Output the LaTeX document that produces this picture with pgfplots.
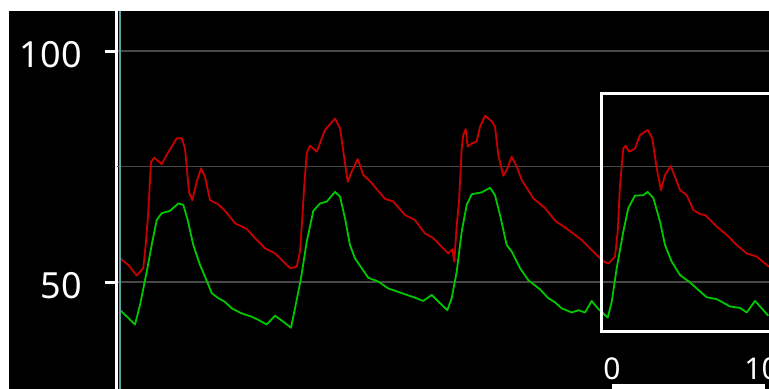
\documentclass[border=0pt]{standalone}
\usepackage{fontspec}
\setmainfont{Noto Sans}
\usepackage{pgfplots}
\pgfplotsset{compat=1.18}
\usepackage{pgfplotstable}
\definecolor{wred}{RGB}{200,0,0}
\definecolor{wgreen}{RGB}{0,200,0}
\definecolor{gridgray}{RGB}{72,72,72}
\definecolor{axteal}{RGB}{90,160,170}

\pgfplotstableread{
x v
120.5 55.2
121.7 54.8
128.3 53.7
136.7 51.4
143.3 53.0
145.7 58.0
148.3 65.2
151.0 76.0
154.3 76.9
161.7 75.5
166.7 77.5
176.7 81.1
181.7 81.1
185.0 78.9
189.0 69.5
192.3 67.7
196.7 71.7
201.0 74.6
205.0 72.8
210.0 67.7
218.3 66.8
225.0 65.4
230.0 64.1
235.0 62.7
246.7 61.5
255.0 59.5
265.0 57.3
275.0 56.2
281.7 54.8
290.0 53.0
296.7 53.3
300.0 56.6
302.3 63.8
304.3 71.0
306.7 77.9
310.0 79.5
316.7 78.2
325.0 82.9
335.0 85.4
340.0 83.3
344.3 76.8
347.7 71.7
351.7 73.9
357.7 76.6
363.3 73.2
371.7 71.4
385.0 68.0
393.3 67.4
405.0 64.5
415.0 63.4
425.0 60.5
433.3 59.5
441.7 57.6
448.3 56.2
452.3 57.1
454.3 54.4
456.7 62.3
459.0 67.4
461.7 78.9
463.3 81.8
465.7 83.1
467.7 79.3
471.7 80.0
476.7 80.4
480.0 83.6
485.0 86.0
491.7 84.8
495.0 83.6
498.3 77.5
503.3 73.0
506.7 74.2
511.7 77.1
516.7 75.0
521.7 72.1
533.3 68.1
545.0 66.0
555.0 63.3
568.3 61.3
581.7 59.1
591.7 56.9
598.3 55.5
603.3 54.5
608.3 54.0
615.0 55.5
617.7 60.9
620.0 71.0
623.3 78.9
625.7 79.5
629.0 78.2
635.0 78.9
640.0 81.8
647.7 82.9
652.3 81.1
656.7 74.6
661.0 69.9
665.0 73.2
670.7 75.1
675.0 72.8
680.0 69.9
686.7 68.8
693.3 65.6
700.0 64.7
705.0 64.5
716.7 62.0
726.7 60.2
736.7 58.0
746.7 56.2
756.7 55.5
769.0 53.3
}\redtable

\pgfplotstableread{
x v
120.5 43.8
121.7 43.6
135.0 40.8
140.0 45.0
146.7 52.2
151.7 58.0
156.7 63.4
161.7 64.9
170.0 65.4
178.3 67.0
183.3 66.7
187.7 63.4
193.3 58.0
200.0 53.7
205.7 50.8
211.7 47.6
218.3 46.5
225.0 45.7
231.7 44.3
241.7 43.2
251.7 42.5
258.3 41.8
266.7 40.8
275.0 42.7
283.3 41.4
291.0 40.1
295.0 44.3
301.0 50.8
306.7 58.7
313.3 65.4
320.0 67.0
326.7 67.4
335.0 69.5
340.0 68.5
345.0 63.8
350.0 58.0
355.0 55.1
361.7 53.0
368.3 50.9
378.3 50.1
388.3 48.6
401.7 47.6
415.0 46.6
423.3 45.9
431.7 47.2
440.0 45.4
447.3 43.9
451.7 46.5
456.7 52.2
461.7 60.9
466.7 66.7
471.7 69.0
481.7 69.4
490.0 70.4
495.0 68.8
500.0 64.5
506.7 58.0
511.7 56.6
520.0 53.0
528.3 50.4
540.0 48.4
548.3 46.5
555.0 45.6
561.7 44.3
571.7 43.4
578.3 43.9
585.0 43.4
591.7 45.9
597.7 44.3
603.3 43.2
607.7 42.3
611.7 45.7
616.7 53.0
623.3 60.9
628.3 66.0
635.0 68.7
643.3 68.8
647.7 69.5
653.3 68.2
660.0 63.1
665.0 58.0
671.7 54.4
680.0 51.5
690.0 49.9
696.7 48.6
706.7 46.7
716.7 46.3
730.0 44.7
740.0 44.4
746.7 43.4
755.0 45.9
761.7 44.3
768.3 42.7
}\greentable

\begin{document}
\begin{tikzpicture}[x=0.5pt,y=0.5pt]
\path[use as bounding box] (0,0) rectangle (769,389);
\clip (0,0) rectangle (769,389);
\fill[white] (0,0) rectangle (769,389);
\fill[black] (9,0) rectangle (769,378);
\begin{axis}[
  at={(58.35pt,0pt)}, anchor=south west,
  scale only axis, width=326.15pt, height=189pt,
  xmin=116.7, xmax=769, ymin=26.84, ymax=108.66,
  axis x line=none, axis y line*=left,
  y axis line style={white, line width=1.5pt},
  ytick={50,100},
  ytick style={white, line width=1.5pt},
  tick align=outside, major tick length=6pt,
  ymajorgrids,
  major grid style={gridgray, line width=0.75pt},
  extra y ticks={75}, extra y tick labels={},
  extra y tick style={grid=major, tick style={draw=none}},
  yticklabel style={white, font=\fontsize{18}{21}\selectfont, xshift=-8pt, yshift=-2pt},
  /pgf/number format/assume math mode=true,
]
\addplot[wred, line width=0.9pt, line join=round] table[x=x, y=v] {\redtable};
\addplot[wgreen, line width=0.9pt, line join=round] table[x=x, y=v] {\greentable};
\draw[axteal, line width=0.9pt] (axis cs:119.8,26.84) -- (axis cs:119.8,108.66);
\end{axis}
\draw[white, line width=1.5pt] (601,57.5) rectangle (820,295);
\fill[white] (612,0) rectangle (765,4.5);
\node[white, anchor=base, inner sep=0pt, font=\fontsize{15}{18}\selectfont] at (612,9) {0};
\node[white, anchor=base west, inner sep=0pt, font=\fontsize{15}{18}\selectfont] at (744,9) {10};
\end{tikzpicture}
\end{document}
